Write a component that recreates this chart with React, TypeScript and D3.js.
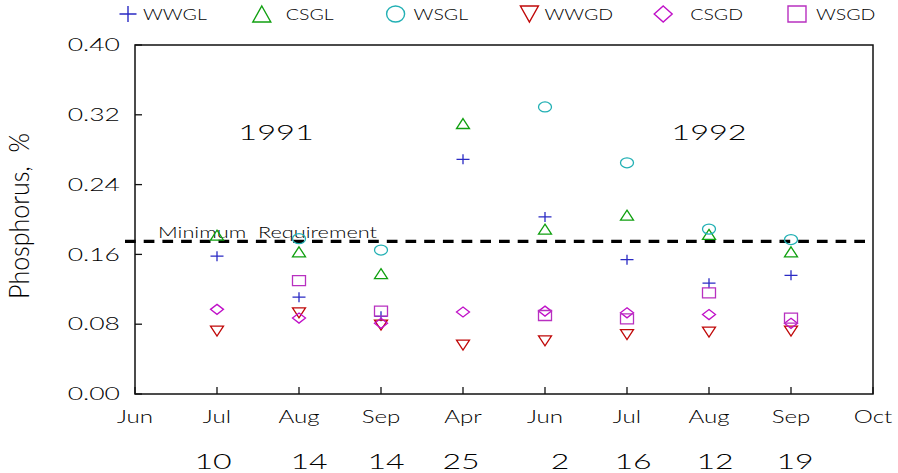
import React from "react";
import * as d3 from "d3";

const months = ["Jun", "Jul", "Aug", "Sep", "Apr", "Jun", "Jul", "Aug", "Sep", "Oct"];
const days = ["", "10", "14", "14", "25", "2", "16", "12", "19", ""];
const dayDx = [0, -4, 10, 5, -2, 15, 6, 6, 4, 0];
const yTicks = [0, 0.08, 0.16, 0.24, 0.32, 0.4];
const sampleIdx = [1, 2, 3, 4, 5, 6, 7, 8];

const WWGL = [0.158, 0.111, 0.089, 0.269, 0.203, 0.154, 0.127, 0.136];
const CSGL = [0.182, 0.163, 0.138, 0.31, 0.189, 0.205, 0.183, 0.163];
const WSGL = [null, 0.178, 0.165, null, 0.329, 0.265, 0.189, 0.177];
const WWGD = [0.072, 0.093, 0.079, 0.056, 0.061, 0.068, 0.071, 0.072];
const CSGD = [0.097, 0.087, 0.081, 0.094, 0.095, 0.093, 0.091, 0.081];
const WSGD = [null, 0.13, 0.095, null, 0.09, 0.086, 0.116, 0.087];

const minRequirement = 0.175;
const years = [
  { label: "1991", idx: 1.72, v: 0.3 },
  { label: "1992", idx: 7.0, v: 0.3 },
];

const series = [
  { name: "WWGL", values: WWGL, shape: "plus", color: "#2a2ac4" },
  { name: "CSGL", values: CSGL, shape: "tri", color: "#10a010" },
  { name: "WSGL", values: WSGL, shape: "circle", color: "#22b0b4" },
  { name: "WWGD", values: WWGD, shape: "itri", color: "#c00808" },
  { name: "CSGD", values: CSGD, shape: "diamond", color: "#c010c8" },
  { name: "WSGD", values: WSGD, shape: "square", color: "#b830c0" },
];
const legendDx = [15, 24, 18, 15, 27, 19];

const W = 898, H = 473;
const left = 135, right = 873, top = 45, bottom = 394;
const x = d3.scaleLinear().domain([0, 9]).range([left, right]);
const y = d3.scaleLinear().domain([0, 0.4]).range([bottom, top]);
const FONT = "Lato, 'Liberation Sans', Arial, sans-serif";
const WEIGHT = 300;

function Marker({ shape, cx, cy, w, h, color, sw }: any) {
  const hw = w / 2, hh = h / 2;
  let d = "";
  if (shape === "plus") d = `M${cx - hw},${cy}H${cx + hw}M${cx},${cy - hh}V${cy + hh}`;
  else if (shape === "tri") d = `M${cx},${cy - hh}L${cx + hw},${cy + hh}L${cx - hw},${cy + hh}Z`;
  else if (shape === "itri") d = `M${cx - hw},${cy - hh}L${cx + hw},${cy - hh}L${cx},${cy + hh}Z`;
  else if (shape === "diamond") d = `M${cx},${cy - hh}L${cx + hw},${cy}L${cx},${cy + hh}L${cx - hw},${cy}Z`;
  else if (shape === "square") d = `M${cx - hw},${cy - hh}H${cx + hw}V${cy + hh}H${cx - hw}Z`;
  if (shape === "circle")
    return <ellipse cx={cx} cy={cy} rx={hw} ry={hh} fill="none" stroke={color} strokeWidth={sw} />;
  return <path d={d} fill="none" stroke={color} strokeWidth={sw} />;
}

function SText({ x: tx, y: ty, s, size, anchor = "start", children, dy }: any) {
  return (
    <text
      transform={`translate(${tx},${ty}) scale(${s},1)`}
      textAnchor={anchor}
      fontSize={size}
      fontFamily={FONT}
      fontWeight={WEIGHT}
      dy={dy}
      fill="#000"
      style={{ whiteSpace: "pre" }}
    >
      {children}
    </text>
  );
}

export default function App() {
  return (
    <svg width={W} height={H} style={{ position: "absolute", left: 0, top: 0, background: "#fff" }}>
      <rect x={left} y={top} width={right - left} height={bottom - top} fill="none" stroke="#111" strokeWidth={1.5} />
      {yTicks.map((t) => (
        <g key={"y" + t}>
          <line x1={left} x2={left + 7} y1={y(t)} y2={y(t)} stroke="#111" strokeWidth={1.3} />
          <SText x={120} y={y(t)} dy="0.36em" s={1.56} size={17} anchor="end">
            {t.toFixed(2)}
          </SText>
        </g>
      ))}
      {months.map((m, i) => (
        <g key={"x" + i}>
          <line x1={x(i)} x2={x(i)} y1={bottom} y2={bottom - 7} stroke="#111" strokeWidth={1.3} />
          <SText x={x(i)} y={423} s={1.42} size={17} anchor="middle">
            {m}
          </SText>
          {days[i] && (
            <SText x={x(i) + dayDx[i]} y={469} s={1.46} size={22} anchor="middle">
              {days[i]}
            </SText>
          )}
        </g>
      ))}
      <text
        transform={`translate(19,216) scale(1.1,1) rotate(-90)`}
        textAnchor="middle"
        fontSize={25}
        fontFamily={FONT}
        fontWeight={WEIGHT}
        dy="0.35em"
        style={{ whiteSpace: "pre" }}
      >
        Phosphorus,  %
      </text>
      <line
        x1={125}
        x2={right}
        y1={y(minRequirement)}
        y2={y(minRequirement)}
        stroke="#000"
        strokeWidth={3.2}
        strokeDasharray="10.7,8"
      />
      <SText x={158} y={238} s={1.45} size={15}>
        Minimum  Requirement
      </SText>
      {years.map((yr) => (
        <SText key={yr.label} x={x(yr.idx)} y={y(yr.v)} dy="0.36em" s={1.55} size={21} anchor="middle">
          {yr.label}
        </SText>
      ))}
      {series.map((s) =>
        s.values.map((v, j) =>
          v == null ? null : (
            <Marker
              key={s.name + j}
              shape={s.shape}
              cx={x(sampleIdx[j])}
              cy={y(v)}
              w={13}
              h={10}
              color={s.color}
              sw={1.3}
            />
          )
        )
      )}
      {series.map((s, i) => {
        const lx = 128 + i * 133.8;
        return (
          <g key={"lg" + s.name}>
            <Marker shape={s.shape} cx={lx} cy={14} w={s.shape === "plus" ? 17 : 18} h={16} color={s.color} sw={1.4} />
            <SText x={lx + legendDx[i]} y={19.5} s={1.22} size={16}>
              {s.name}
            </SText>
          </g>
        );
      })}
    </svg>
  );
}
